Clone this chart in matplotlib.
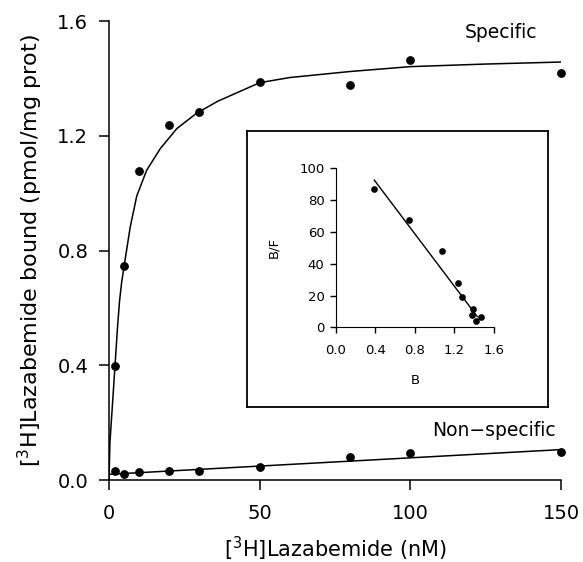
import matplotlib
matplotlib.use('Agg')
import matplotlib.pyplot as plt

# saturation data, [3H]lazabemide (nM) vs bound (pmol/mg prot)
conc = [2, 5, 10, 20, 30, 50, 80, 100, 150]
specific = [0.398, 0.747, 1.077, 1.238, 1.284, 1.386, 1.377, 1.465, 1.419]
nonspecific = [0.032, 0.021, 0.028, 0.032, 0.032, 0.046, 0.080, 0.094, 0.097]

# fitted curves
spec_fit_x = [0, 0.3, 2, 2.8, 3.5, 4.2, 5, 7, 9.2, 12.5, 17, 22.5, 29, 36, 50, 60, 80, 100, 125, 150]
spec_fit_y = [0, 0.13, 0.40, 0.53, 0.625, 0.69, 0.745, 0.88, 0.99, 1.08, 1.155, 1.225, 1.278, 1.32,
              1.385, 1.403, 1.424, 1.441, 1.45, 1.457]
nonspec_fit_x = [0.3, 150]
nonspec_fit_y = [0.020, 0.106]

# Scatchard inset
scat_b = [0.387, 0.738, 1.072, 1.233, 1.28, 1.385, 1.375, 1.422, 1.466]
scat_bf = [87.2, 67.3, 48.2, 27.7, 18.9, 11.7, 7.5, 3.8, 6.5]
scat_fit_b = [0.39, 1.432]
scat_fit_bf = [92.6, 6.7]

main_xticks = [0, 50, 100, 150]
main_yticks = [0.0, 0.4, 0.8, 1.2, 1.6]
inset_xticks = [0.0, 0.4, 0.8, 1.2, 1.6]
inset_yticks = [0, 20, 40, 60, 80, 100]

plt.rcParams['font.family'] = ['DejaVu Sans']

fig = plt.figure(figsize=(5.83, 5.62), dpi=100)
ax = fig.add_axes([0.187, 0.1459, 0.7753, 0.8167])

ax.plot(spec_fit_x, spec_fit_y, color='black', lw=1.1)
ax.plot(nonspec_fit_x, nonspec_fit_y, color='black', lw=1.1)
ax.plot(conc, specific, 'o', color='black', ms=5.3, clip_on=False)
ax.plot(conc, nonspecific, 'o', color='black', ms=5.3, clip_on=False)

ax.set_xlim(0, 150)
ax.set_ylim(0, 1.6)
ax.set_xticks(main_xticks)
ax.set_yticks(main_yticks)
ax.set_xticklabels([str(v) for v in main_xticks])
ax.set_yticklabels([f'{v:.1f}' for v in main_yticks])
for side in ['top', 'right']:
    ax.spines[side].set_visible(False)
for side in ['left', 'bottom']:
    ax.spines[side].set_linewidth(1.1)
ax.tick_params(direction='out', length=7, width=1.1, labelsize=14)
ax.tick_params(axis='x', pad=10)
ax.tick_params(axis='y', pad=8)

ax.set_xlabel('[$^3$H]Lazabemide (nM)', fontsize=15, labelpad=9)
ax.set_ylabel('[$^3$H]Lazabemide bound (pmol/mg prot)', fontsize=16, labelpad=9)

ax.text(130.1, 1.5615, 'Specific', fontsize=13.5, ha='center', va='center')
ax.text(127.9, 0.171, 'Non\u2212specific', fontsize=13.5, ha='center', va='center')

# inset frame
box = fig.add_axes([0.4232, 0.2753, 0.5173, 0.4916])
box.set_xticks([])
box.set_yticks([])
for sp in box.spines.values():
    sp.set_linewidth(1.3)
box.patch.set_alpha(0)

ins = fig.add_axes([0.5758, 0.4176, 0.2715, 0.2829])
ins.plot(scat_fit_b, scat_fit_bf, color='black', lw=1.0)
ins.plot(scat_b, scat_bf, 'o', color='black', ms=3.8)
ins.set_xlim(0, 1.6)
ins.set_ylim(0, 100)
ins.set_xticks(inset_xticks)
ins.set_yticks(inset_yticks)
ins.set_xticklabels([f'{v:.1f}' for v in inset_xticks])
for side in ['top', 'right']:
    ins.spines[side].set_visible(False)
ins.tick_params(direction='out', length=4, width=1.0, labelsize=9.5, pad=4)
ins.tick_params(axis='x', pad=8)
ins.set_xlabel('B', fontsize=9.5, labelpad=12)
ins.set_ylabel('B/F', fontsize=9.5, labelpad=14)

fig.savefig('out.png', dpi=100)
